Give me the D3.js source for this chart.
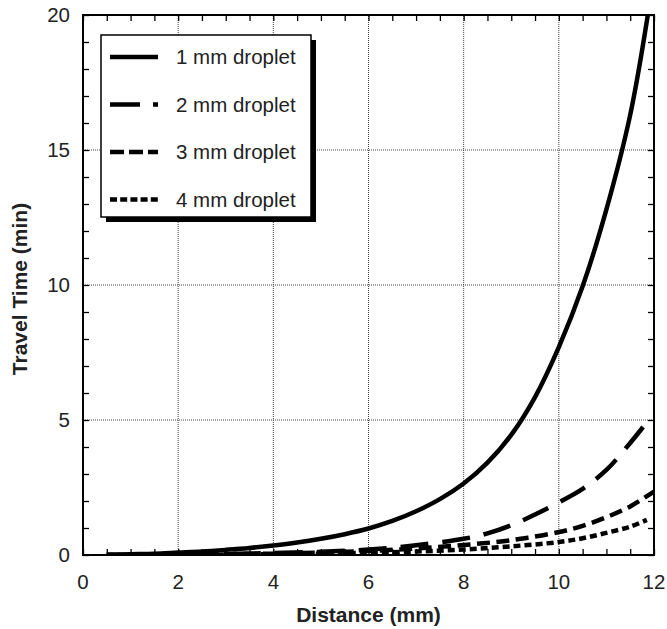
<!DOCTYPE html>
<html>
<head>
<meta charset="utf-8">
<script src="https://cdn.jsdelivr.net/npm/d3@7"></script>
<style>
  body { margin: 0; background: #fff; }
  svg { display: block; font-family: "Liberation Sans", Arial, sans-serif; }
</style>
</head>
<body>
<svg id="chart" width="667" height="629"></svg>
<script>
// values (distance in mm, time in min)
const d1mm = [
  [0.5, 0.01], [1, 0.03], [1.5, 0.05], [2, 0.09], [2.5, 0.13], [3, 0.19],
  [3.5, 0.26], [4, 0.35], [4.5, 0.46], [5, 0.6], [5.5, 0.77], [6, 0.98],
  [6.5, 1.26], [7, 1.62], [7.5, 2.07], [8, 2.65], [8.5, 3.42], [9, 4.45],
  [9.5, 5.85], [10, 7.7], [10.5, 9.95], [11, 12.8], [11.5, 16.3], [11.87, 20]
]
const d2mm = [
  [0.5, 0.002], [1, 0.005], [2, 0.02], [3, 0.04], [4, 0.07], [5, 0.12],
  [6, 0.2], [7, 0.36], [8, 0.6], [8.5, 0.8], [9, 1.1], [9.5, 1.5],
  [10, 1.95], [10.5, 2.45], [11, 3.15], [11.5, 4.15], [11.82, 4.85]
]
const d3mm = [
  [0.5, 0.002], [1, 0.004], [2, 0.015], [3, 0.03], [4, 0.05], [5, 0.09],
  [6, 0.15], [7, 0.24], [8, 0.37], [9, 0.55], [10, 0.85], [10.5, 1.08],
  [11, 1.4], [11.5, 1.8], [12, 2.35]
]
const d4mm = [
  [0.5, 0.001], [1, 0.002], [2, 0.008], [3, 0.015], [4, 0.03], [5, 0.05],
  [6, 0.08], [7, 0.13], [8, 0.2], [9, 0.32], [10, 0.48], [10.5, 0.62],
  [11, 0.82], [11.5, 1.05], [11.85, 1.3]
]

const seriesNames = ['1 mm droplet', '2 mm droplet', '3 mm droplet', '4 mm droplet']
const seriesData = [d1mm, d2mm, d3mm, d4mm]
const dashes = [null, '28,14', '13,6.5', '7,4']
const legendDashes = [null, '30,13', '14,5', '7,3.2']

const xTicks = [0, 2, 4, 6, 8, 10, 12]
const yTicks = [0, 5, 10, 15, 20]

const svg = d3.select('#chart')

const margin = { left: 83, right: 13, top: 15, bottom: 74 }
const w = 667, h = 629

const x = d3.scaleLinear().domain([0, 12]).range([margin.left, w - margin.right])
const y = d3.scaleLinear().domain([0, 20]).range([h - margin.bottom, margin.top])

const [x0, x1] = x.range()
const [y0, y1] = y.range()

// clip for the curves
svg.append('defs').append('clipPath')
    .attr('id', 'plot')
  .append('rect')
    .attr('x', x0).attr('y', y1)
    .attr('width', x1 - x0).attr('height', y0 - y1)

// dotted grid
const grid = svg.append('g')
  .attr('stroke', '#444')
  .attr('stroke-width', 1)
  .attr('stroke-dasharray', '1,1')

grid.selectAll('.gx')
  .data(xTicks.filter(d => d > 0 && d < 12))
  .join('line')
    .attr('x1', d => x(d)).attr('x2', d => x(d))
    .attr('y1', y0).attr('y2', y1)

grid.selectAll('.gy')
  .data(yTicks.filter(d => d > 0 && d < 20))
  .join('line')
    .attr('class', 'gy')
    .attr('x1', x0).attr('x2', x1)
    .attr('y1', d => y(d)).attr('y2', d => y(d))

// inward ticks on all four sides, minor every 0.5 mm and 1 min
const tickLen = 6
const bottomAxis = d3.axisBottom(x).ticks(24).tickSize(-tickLen).tickFormat('')
const topAxis = d3.axisTop(x).ticks(24).tickSize(-tickLen).tickFormat('')
const leftAxis = d3.axisLeft(y).ticks(20).tickSize(-tickLen).tickFormat('')
const rightAxis = d3.axisRight(y).ticks(20).tickSize(-tickLen).tickFormat('')

const axes = [
  [bottomAxis, `translate(0,${y0})`],
  [topAxis, `translate(0,${y1})`],
  [leftAxis, `translate(${x0},0)`],
  [rightAxis, `translate(${x1},0)`]
]
axes.forEach(([a, t]) => {
  const g = svg.append('g').attr('transform', t).call(a)
  g.select('.domain').remove()
  g.selectAll('.tick line').attr('stroke', '#000').attr('stroke-width', 1.3)
})

// tick labels
svg.append('g')
  .selectAll('text')
  .data(xTicks)
  .join('text')
    .attr('x', d => x(d))
    .attr('y', y0 + 34)
    .attr('text-anchor', 'middle')
    .attr('font-size', 20.5)
    .attr('fill', '#222')
    .text(d => d)

svg.append('g')
  .selectAll('text')
  .data(yTicks)
  .join('text')
    .attr('x', x0 - 13)
    .attr('y', d => y(d) + 7)
    .attr('text-anchor', 'end')
    .attr('font-size', 20.5)
    .attr('fill', '#222')
    .text(d => d)

// axis titles
svg.append('text')
  .attr('x', (x0 + x1) / 2)
  .attr('y', y0 + 67)
  .attr('text-anchor', 'middle')
  .attr('font-size', 21)
  .attr('font-weight', 'bold')
  .attr('fill', '#222')
  .text('Distance (mm)')

svg.append('text')
  .attr('transform', `translate(27,${(y0 + y1) / 2 + 4}) rotate(-90)`)
  .attr('text-anchor', 'middle')
  .attr('font-size', 21)
  .attr('font-weight', 'bold')
  .attr('fill', '#222')
  .text('Travel Time (min)')

// curves
const line = d3.line()
  .x(d => x(d[0]))
  .y(d => y(d[1]))
  .curve(d3.curveCatmullRom.alpha(0.5))

svg.append('g')
  .attr('clip-path', 'url(#plot)')
  .selectAll('path')
  .data(seriesData)
  .join('path')
    .attr('d', line)
    .attr('fill', 'none')
    .attr('stroke', '#000')
    .attr('stroke-width', 4.5)
    .attr('stroke-dasharray', (d, i) => dashes[i])

// frame
svg.append('rect')
  .attr('x', x0).attr('y', y1)
  .attr('width', x1 - x0).attr('height', y0 - y1)
  .attr('fill', 'none')
  .attr('stroke', '#000')
  .attr('stroke-width', 2)

// legend with drop shadow
const lg = { x: 101, y: 35, w: 210, h: 182 }
const legend = svg.append('g')

legend.append('rect')
  .attr('x', lg.x + 5).attr('y', lg.y + 5)
  .attr('width', lg.w).attr('height', lg.h)
  .attr('fill', '#000')

legend.append('rect')
  .attr('x', lg.x).attr('y', lg.y)
  .attr('width', lg.w).attr('height', lg.h)
  .attr('fill', '#fff')
  .attr('stroke', '#000')
  .attr('stroke-width', 1.5)

const items = legend.selectAll('g.item')
  .data(seriesNames)
  .join('g')
    .attr('class', 'item')
    .attr('transform', (d, i) => `translate(0,${lg.y + 22 + i * 47.5})`)

items.append('line')
  .attr('x1', lg.x + 9).attr('x2', lg.x + 57)
  .attr('stroke', '#000')
  .attr('stroke-width', 4.5)
  .attr('stroke-dasharray', (d, i) => legendDashes[i])

items.append('text')
  .attr('x', lg.x + 75)
  .attr('y', 7)
  .attr('font-size', 20.5)
  .attr('fill', '#222')
  .text(d => d)
</script>
</body>
</html>
